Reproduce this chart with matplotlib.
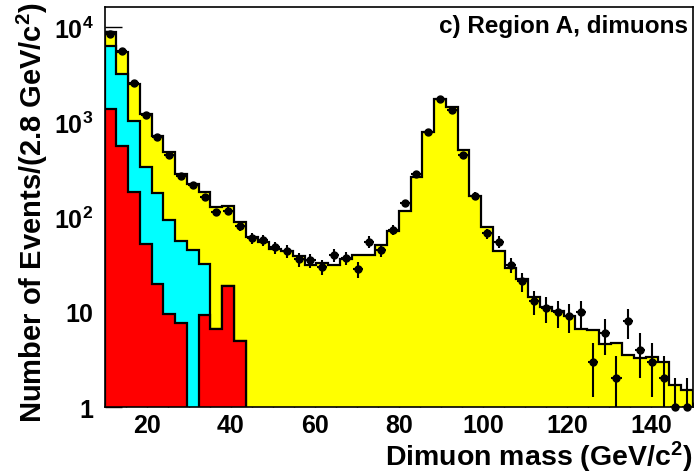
import numpy as np
import matplotlib
matplotlib.use('Agg')
import matplotlib.pyplot as plt
from matplotlib.ticker import MultipleLocator, FixedLocator, NullFormatter

plt.rcParams['font.family'] = ['Liberation Sans', 'DejaVu Sans']
plt.rcParams['font.weight'] = 'bold'
plt.rcParams['mathtext.fontset'] = 'custom'
plt.rcParams['mathtext.rm'] = 'Liberation Sans:bold'
plt.rcParams['mathtext.it'] = 'Liberation Sans:bold'
plt.rcParams['mathtext.bf'] = 'Liberation Sans:bold'

# ---- binning (GeV/c^2) ----
mass_lo = 10.0
bin_width = 2.8
n_bins = 50

# ---- observed data (events per bin) ----
data_counts = [8400, 5550, 2555, 1185, 695, 453, 272, 218, 163, 112,
               116, 81, 60, 57, 48, 44, 36, 35, 30, 40,
               37, 28, 55, 45, 73, 140, 284, 779, 1730, 1350,
               453, 168, 67, 55, 31, 21, 13, 11, 10, 9,
               10, 3, 6, 2, 8, 4, 3, 2, 1, 1]

# ---- background components (stacked: red bottom, cyan, yellow on top) ----
red_component = [1370, 563, 182, 52, 19.7, 9.5, 7.6, 0, 9.3, 6.6,
                 18.9, 5.0] + [0] * 38
cyan_component = [4990, 2640, 850, 281, 160, 84, 48, 45, 23, 0,
                  0, 0] + [0] * 38
yellow_component = [2430, 2217, 1481, 881, 538, 386, 228, 177, 150, 122,
                    110, 83, 61, 54, 46, 44, 39, 31, 33, 31,
                    36, 40, 40, 51, 72, 116, 262, 779, 1746, 1428,
                    507, 168, 78, 44, 29, 22, 14.5, 11.2, 10.3, 9.1,
                    6.6, 6.4, 4.6, 4.7, 3.55, 3.25, 3.33, 2.95, 1.7, 1.51]

title_text = "c) Region A, dimuons"
xlabel_text = r"Dimuon mass (GeV/c$^{2}$)"
ylabel_text = r"Number of Events/(2.8 GeV/c$^{2}$)"
ytick_values = [1, 10, 100, 1000, 10000]
ytick_labels = ["1", "10", r"$10^{2}$", r"$10^{3}$", r"$10^{4}$"]

edges = mass_lo + bin_width * np.arange(n_bins + 1)
centers = 0.5 * (edges[:-1] + edges[1:])

red = np.array(red_component, dtype=float)
cyan = np.array(cyan_component, dtype=float)
yel = np.array(yellow_component, dtype=float)
lvl_red = red
lvl_cyan = red + cyan
lvl_tot = red + cyan + yel

W, H = 694, 477
fig = plt.figure(figsize=(W / 100, H / 100), dpi=100)
ax_l, ax_r, ax_b, ax_t = 104.5, 693.0, 408.0, 8.0
ax = fig.add_axes([ax_l / W, 1 - ax_b / H, (ax_r - ax_l) / W, (ax_b - ax_t) / H])
ax.set_yscale('log')
ax.set_xlim(10, 150)
ax.set_ylim(1, 1.62e4)

base = 1e-3
def floor(v):
    return np.where(v > 0, v, base)

lw = 1.6
ax.stairs(floor(lvl_tot), edges, baseline=base, fill=True, facecolor='#ffff00',
          edgecolor='black', linewidth=lw, zorder=2)
ax.stairs(floor(lvl_cyan), edges, baseline=base, fill=True, facecolor='#00ffff',
          edgecolor='black', linewidth=lw, zorder=3)
ax.stairs(floor(lvl_red), edges, baseline=base, fill=True, facecolor='#ff0000',
          edgecolor='black', linewidth=lw, zorder=4)

d = np.array(data_counts, dtype=float)
err = np.sqrt(d)
err_lo = np.minimum(err, d - 1.0)
ax.errorbar(centers, d, yerr=[err_lo, err], xerr=1.2, fmt='none', ecolor='black',
            elinewidth=1.5, capsize=0, zorder=6)
ax.plot(centers, d, 'o', color='black', ms=5, zorder=7, clip_on=False)

# ticks
ax.xaxis.set_major_locator(MultipleLocator(20))
ax.xaxis.set_minor_locator(MultipleLocator(5))
ax.yaxis.set_major_locator(FixedLocator(ytick_values))
minors = [m * 10 ** k for k in range(0, 5) for m in range(2, 10)]
ax.yaxis.set_minor_locator(FixedLocator(minors))
ax.yaxis.set_minor_formatter(NullFormatter())
ax.set_yticklabels(ytick_labels)
ax.tick_params(which='both', direction='in', top=False, right=False, width=1.0, zorder=10)
ax.tick_params(axis='x', which='major', length=7.5, labelsize=18, pad=4)
ax.tick_params(axis='x', which='minor', length=3.8)
ax.tick_params(axis='y', which='major', length=12, labelsize=18, pad=8)
ax.tick_params(axis='y', which='minor', length=6)
for lab in ax.get_xticklabels() + ax.get_yticklabels():
    lab.set_fontweight('bold')
for s in ax.spines.values():
    s.set_linewidth(1.2)
    s.set_zorder(10)

def fx(px):
    return px / W
def fy(py):
    return 1 - py / H

ax.text(fx(688) / 1.0, 0, '', transform=fig.transFigure)
fig.text(fx(688), fy(33), title_text, ha='right', va='baseline', fontsize=17.5, fontweight='bold')
fig.text(fx(692), fy(466), xlabel_text, ha='right', va='baseline', fontsize=20.5, fontweight='bold')
fig.text(fx(32), fy(2), ylabel_text, ha='center', va='top', rotation=90, fontsize=21, fontweight='bold')

fig.savefig('out.png', dpi=100)
